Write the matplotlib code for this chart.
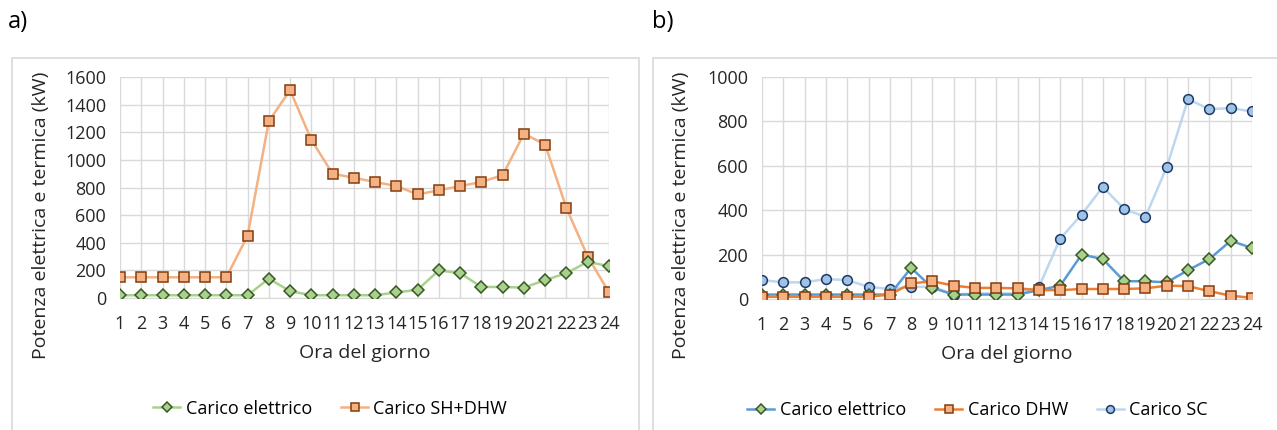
import matplotlib.pyplot as plt
from matplotlib.patches import Rectangle

# hourly loads (kW)
ore = list(range(1, 25))
carico_el = [20, 20, 20, 20, 20, 20, 20, 140, 50, 20, 20, 20,
             20, 40, 60, 200, 180, 80, 80, 75, 130, 180, 262, 230]
carico_sh_dhw = [150, 150, 150, 150, 150, 150, 450, 1280, 1505, 1145, 900, 870,
                 840, 810, 750, 780, 810, 840, 890, 1190, 1110, 650, 300, 40]
carico_dhw = [10, 10, 10, 10, 10, 10, 20, 70, 80, 60, 50, 50,
              48, 40, 40, 45, 45, 45, 48, 60, 58, 35, 15, 5]
carico_sc = [85, 75, 75, 90, 85, 55, 45, 55, 55, 20, 25, 25,
             25, 55, 272, 380, 505, 405, 370, 595, 900, 855, 860, 845]

plt.rcParams['font.family'] = ['Open Sans', 'DejaVu Sans']
plt.rcParams['font.size'] = 13

W, H = 1277, 430
fig = plt.figure(figsize=(W / 100, H / 100), dpi=100)


def px_axes(x0, x1, ytop, ybot):
    return fig.add_axes([x0 / W, 1 - ybot / H, (x1 - x0) / W, (ybot - ytop) / H])


# panel frames
for x0, x1 in [(12, 639), (653, 1290)]:
    fig.patches.append(Rectangle((x0 / W, -0.05), (x1 - x0) / W, 1 - 58 / H + 0.05,
                                 transform=fig.transFigure, fill=False,
                                 edgecolor='#d9d9d9', lw=1.2))

fig.text(8 / W, 1 - 22 / H, 'a)', fontsize=17, va='center', ha='left')
fig.text(652 / W, 1 - 22 / H, 'b)', fontsize=17, va='center', ha='left')


def style(ax, ymax, step):
    ax.set_xlim(1, 24)
    ax.set_ylim(0, ymax)
    ax.set_xticks(ore)
    ax.set_yticks(range(0, ymax + 1, step))
    ax.grid(True, color='#d9d9d9', lw=1)
    ax.set_axisbelow(True)
    for s in ['top', 'right', 'left']:
        ax.spines[s].set_visible(False)
    ax.spines['bottom'].set_color('#d9d9d9')
    ax.tick_params(length=0, labelsize=13, colors='#262626')
    ax.tick_params(axis='x', pad=12)
    ax.tick_params(axis='y', pad=10)
    ax.set_ylabel('Potenza elettrica e termica (kW)', fontsize=14, color='#262626')
    ax.set_xlabel('Ora del giorno', fontsize=14, color='#262626', labelpad=8)


mk = dict(mew=1.1)
leg = dict(loc='center', frameon=False, fontsize=13, handlelength=1.5,
           columnspacing=1.6, handletextpad=0.3, markerscale=0.8)

# a) electric and SH+DHW loads
ax1 = px_axes(120, 609, 77, 298)
ax1.plot(ore, carico_sh_dhw, color='#f4b183', lw=1.8, marker='s', ms=7,
         mfc='#f4b183', mec='#843c0c', label='Carico SH+DHW', zorder=3, **mk)
ax1.plot(ore, carico_el, color='#a9d18e', lw=1.8, marker='D', ms=6,
         mfc='#a9d18e', mec='#385723', label='Carico elettrico', zorder=4, **mk)
style(ax1, 1600, 200)
ax1.yaxis.set_label_coords(-0.143, 0.376)
h, l = ax1.get_legend_handles_labels()
ax1.legend(h[::-1], l[::-1], bbox_to_anchor=(0.43, -0.5), ncol=2, **leg)

# b) electric, DHW and SC loads
ax2 = px_axes(762, 1252, 77, 299)
ax2.plot(ore, carico_sc, color='#bdd7ee', lw=1.8, marker='o', ms=7,
         mfc='#9dc3e6', mec='#203864', label='Carico SC', zorder=3, **mk)
ax2.plot(ore, carico_el, color='#5b9bd5', lw=1.8, marker='D', ms=6,
         mfc='#a9d18e', mec='#385723', label='Carico elettrico', zorder=4, **mk)
ax2.plot(ore, carico_dhw, color='#ed7d31', lw=1.8, marker='s', ms=7,
         mfc='#f4b183', mec='#843c0c', label='Carico DHW', zorder=5, **mk)
style(ax2, 1000, 200)
ax2.yaxis.set_label_coords(-0.147, 0.376)
h, l = ax2.get_legend_handles_labels()
order = [1, 2, 0]
ax2.legend([h[i] for i in order], [l[i] for i in order],
           bbox_to_anchor=(0.44, -0.5), ncol=3, **leg)

fig.savefig('out.png', dpi=100)
